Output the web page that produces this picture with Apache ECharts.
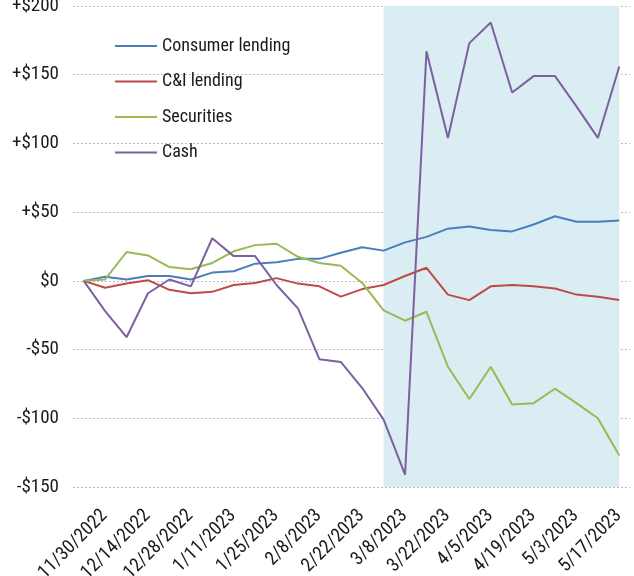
<!DOCTYPE html>
<html>
<head>
<meta charset="utf-8">
<script src="https://cdn.jsdelivr.net/npm/echarts@6/dist/echarts.min.js"></script>
<style>
  html, body { margin: 0; padding: 0; background: #fff; }
  #chart { width: 634px; height: 576px; }
</style>
</head>
<body>
<div id="chart"></div>
<script>
var dates = ['11/30/2022','12/7/2022','12/14/2022','12/21/2022','12/28/2022','1/4/2023','1/11/2023','1/18/2023','1/25/2023',
  '2/1/2023','2/8/2023','2/15/2023','2/22/2023','3/1/2023','3/8/2023','3/15/2023','3/22/2023','3/29/2023','4/5/2023',
  '4/12/2023','4/19/2023','4/26/2023','5/3/2023','5/10/2023','5/17/2023','5/24/2023'];
var consumer = [0, 3, 1, 3.5, 3.5, 1, 6, 7, 12.5, 13.5, 16, 16, 20.5, 24.5, 22, 28, 32, 38, 39.5, 37, 36, 41, 47, 43, 43, 44];
var cni = [0, -5, -2, 0.5, -6.5, -9, -8, -3, -1.5, 2, -2, -4, -11.5, -6, -3, 3.5, 9.5, -10, -14, -4, -3, -4, -5.5, -10, -11.5, -14];
var securities = [0, 1, 21, 18.5, 10, 8.5, 13, 21.5, 26, 27, 17.5, 13, 11, -1.5, -21.5, -29, -22.5, -62.5, -86, -62.5, -90, -89, -78.5, -89, -100, -127];
var cash = [0, -22, -41, -9, 1, -4, 31, 18, 18, -3, -20, -57, -59, -78, -101, -141, 167, 104, 173, 188, 137, 149, 149, 127, 104, 156];
var shadeFrom = '3/8/2023';
var shadeTo = '5/24/2023';

var font = '"Roboto Condensed", "DejaVu Sans Condensed", sans-serif';
var ink = '#1a1a1a';

function line(name, data, color) {
  return {
    name: name, type: 'line', data: data, z: 3,
    symbol: 'none',
    lineStyle: { color: color, width: 2 },
    itemStyle: { color: color }
  };
}

var chart = echarts.init(document.getElementById('chart'));
chart.setOption({
  animation: false,
  grid: { left: 73, right: 4, top: 6, bottom: 89, outerBoundsMode: 'none', containLabel: false },
  legend: {
    orient: 'vertical', left: 110, top: 31,
    icon: 'rect', itemWidth: 42, itemHeight: 2, itemGap: 15.5,
    textStyle: { fontFamily: font, fontSize: 18, color: ink, lineHeight: 20 },
    data: ['Consumer lending', 'C&I lending', 'Securities', 'Cash']
  },
  xAxis: {
    type: 'category', data: dates, boundaryGap: true,
    axisLine: { show: false }, axisTick: { show: false },
    axisLabel: {
      interval: 1, rotate: 45, align: 'right', verticalAlign: 'top',
      padding: [20, 0, 0, 0], margin: 5,
      fontFamily: font, fontSize: 19, color: ink
    }
  },
  yAxis: {
    type: 'value', min: -150, max: 200, interval: 50,
    axisLine: { show: false }, axisTick: { show: false },
    splitLine: { lineStyle: { color: '#bdbdbd', type: [2, 2], width: 1 } },
    axisLabel: {
      margin: 14, fontFamily: font, fontSize: 19, color: ink,
      formatter: function(v) { return v > 0 ? '+$' + v : (v < 0 ? '-$' + (-v) : '$0'); }
    }
  },
  series: [
    {
      name: 'shade', type: 'line', data: [], z: 1,
      markArea: {
        silent: true,
        itemStyle: { color: '#daedf2' },
        data: [[{ xAxis: shadeFrom, yAxis: -150 }, { xAxis: shadeTo, yAxis: 200 }]]
      }
    },
    line('Consumer lending', consumer, '#4a7ebb'),
    line('C&I lending', cni, '#be4b48'),
    line('Securities', securities, '#98b954'),
    line('Cash', cash, '#7d60a0')
  ]
});
</script>
</body>
</html>
